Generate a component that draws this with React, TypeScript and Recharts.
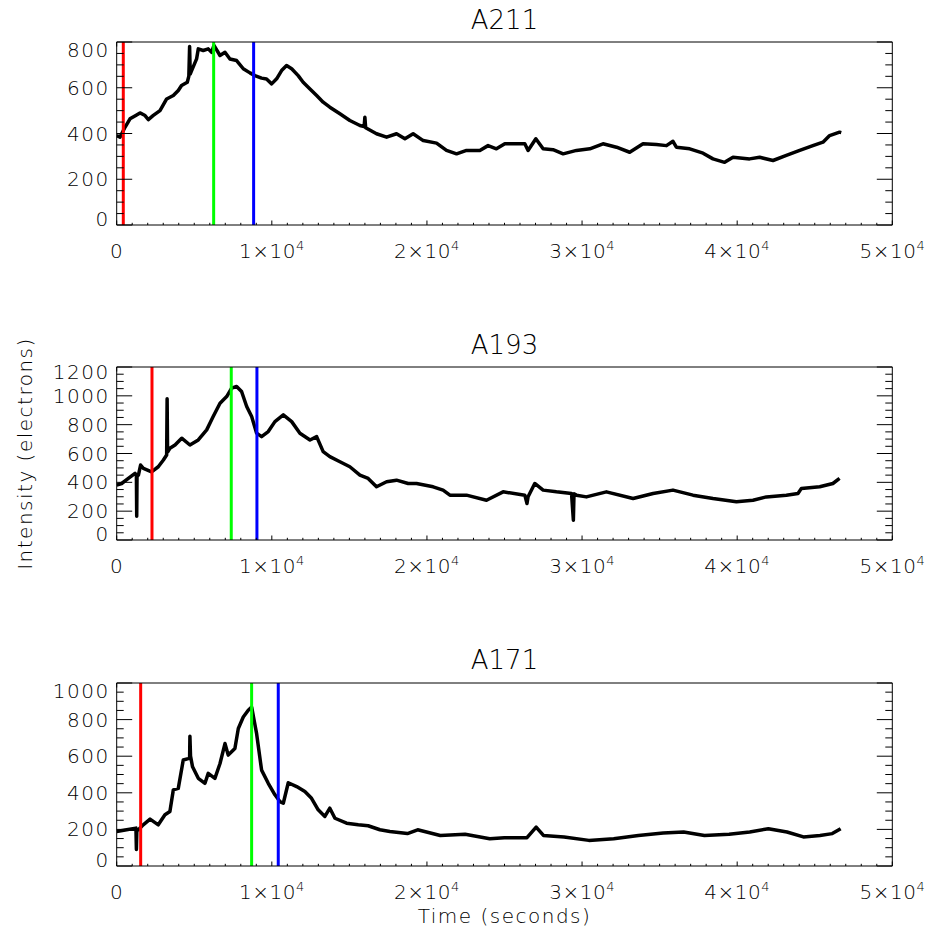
import { Line, LineChart, ReferenceLine, XAxis, YAxis } from "recharts";

// A211 light curve (time in seconds, intensity in electrons)
const A211_T = [
  0, 215, 535, 857, 1200, 1500, 1800, 2040, 2360, 2790, 3220, 3650, 3970, 4180, 4550, 4650, 4700, 4740,
  4830, 5150, 5260, 5580, 5900, 6120, 6270, 6660, 6980, 7300, 7730, 8160, 8590, 8910, 9340, 9660, 9990,
  10310, 10630, 10950, 11280, 11700, 12020, 12460, 12890, 13310, 13740, 14390, 15030, 15680, 15950, 16000,
  16050, 16750, 17400, 18040, 18580, 19110, 19760, 20620, 21260, 21910, 22550, 23410, 23940, 24480, 25020,
  26310, 26520, 27020, 27490, 28130, 28780, 29640, 30500, 31350, 32220, 33070, 33930, 34790, 35440, 35860,
  36080, 36940, 37800, 38440, 39190, 39730, 40800, 41450, 42310, 43170, 44030, 44880, 45530, 45960, 46600,
  46710,
];
const A211_V = [
  391, 384, 427, 464, 478, 490, 480, 461, 479, 500, 551, 566, 588, 610, 624, 650, 780, 660,
  675, 726, 770, 763, 770, 755, 785, 741, 755, 726, 719, 683, 665, 653, 642, 638, 617,
  639, 675, 697, 683, 653, 624, 595, 566, 537, 515, 486, 457, 435, 430, 471,
  425, 399, 384, 399, 377, 399, 369, 358, 326, 311, 326, 326, 347, 333, 355,
  355, 326, 377, 333, 329, 311, 326, 333, 355, 340, 318, 355, 352, 347, 366,
  340, 333, 314, 289, 274, 296, 289, 296, 282, 304, 326, 347, 362, 391, 406,
  404,
];

// A193
const A193_T = [
  0, 320, 750, 1180, 1270, 1290, 1310, 1400, 1540, 1720, 2250, 2680, 3010, 3220, 3250, 3280, 3430, 3760,
  4190, 4720, 5260, 5800, 6220, 6660, 7090, 7410, 7730, 8050, 8380, 8700, 9020, 9340, 9770, 10200, 10740,
  11280, 11810, 12460, 12890, 13310, 13740, 14390, 15030, 15680, 16210, 16750, 17400, 18040, 18790, 19330,
  20400, 21040, 21480, 22550, 23840, 24910, 26310, 26450, 26520, 26950, 27490, 28350, 29320, 29440, 29480,
  29640, 30280, 31570, 33290, 34580, 35860, 37150, 38440, 39950, 41020, 41880, 43170, 43920, 44140, 45320,
  46170, 46600,
];
const A193_V = [
  381, 392, 427, 462, 450, 165, 440, 450, 520, 497, 473, 508, 555, 590, 979, 610, 636, 659,
  706, 659, 694, 764, 856, 949, 995, 1054, 1065, 1030, 926, 856, 741, 717, 752, 821, 868,
  821, 741, 694, 717, 613, 578, 543, 508, 450, 427, 369, 404, 415, 392, 392,
  369, 346, 311, 311, 276, 334, 311, 253, 300, 392, 346, 334, 323, 137, 320,
  311, 299, 334, 288, 323, 346, 311, 288, 265, 276, 299, 311, 323, 358, 369,
  392, 427,
];

// A171
const A171_T = [
  0, 640, 1240, 1270, 1300, 1400, 1710, 2150, 2680, 3110, 3430, 3650, 3970, 4290, 4610, 4700, 4720, 4760,
  4890, 5260, 5690, 5900, 6330, 6660, 6980, 7190, 7620, 7840, 8160, 8480, 8700, 9020, 9340, 9770, 10200,
  10520, 10740, 11060, 11600, 12130, 12560, 12990, 13420, 13740, 14070, 14820, 15570, 16210, 16970, 17610,
  18740, 19400, 20860, 22460, 24050, 24990, 26450, 27040, 27510, 28840, 30440, 32040, 33630, 35230, 36550,
  37890, 39480, 40810, 42010, 43210, 44270, 45340, 46130, 46670,
];
const A171_V = [
  189, 198, 207, 90, 200, 198, 225, 256, 225, 280, 298, 416, 424, 579, 587, 590, 709, 600,
  542, 479, 452, 506, 479, 560, 669, 606, 642, 751, 814, 851, 868, 723, 524, 452, 389,
  352, 343, 455, 434, 407, 370, 307, 271, 316, 261, 234, 225, 220, 198, 189,
  177, 198, 167, 173, 149, 155, 155, 213, 167, 159, 140, 149, 167, 180, 186,
  167, 173, 186, 204, 186, 159, 167, 177, 204,
];

// red / green / blue marker times
const A211_MARKS = [425, 6250, 8827];
const A193_MARKS = [2275, 7385, 9040];
const A171_MARKS = [1545, 8698, 10415];
const MARK_COLORS = ["#ff0000", "#00ff00", "#0000ff"];

const X_MAJOR = [0, 10000, 20000, 30000, 40000, 50000];
const A211_Y = [0, 200, 400, 600, 800];
const A193_Y = [0, 200, 400, 600, 800, 1000, 1200];
const A171_Y = [0, 200, 400, 600, 800, 1000];

const FONT = "'DejaVu Sans', sans-serif";
const LEFT = 116.7;
const RIGHT = 892.3;
const PAD = 40;

function withMinors(major: number[], parts: number) {
  const out: number[] = [];
  for (let i = 0; i < major.length - 1; i++) {
    const step = (major[i + 1] - major[i]) / parts;
    for (let k = 0; k < parts; k++) out.push(major[i] + k * step);
  }
  out.push(major[major.length - 1]);
  return out;
}

function xLabel(v: number) {
  if (v === 0) return <tspan>0</tspan>;
  return (
    <>
      <tspan>{`${v / 10000}×10`}</tspan>
      <tspan fontSize={13} dy={-8}>4</tspan>
    </>
  );
}

function Panel({ times, values, marks, yMajor, boxTop, boxH, topShift }: {
  times: number[]; values: number[]; marks: number[]; yMajor: number[]; boxTop: number; boxH: number; topShift: number;
}) {
  const data = times.map((t, i) => ({ t, v: values[i] }));
  const yMax = yMajor[yMajor.length - 1];
  const xTicks = withMinors(X_MAJOR, 10);
  const yTicks = withMinors(yMajor, 4);
  const isMajorX = (v: number) => X_MAJOR.includes(v);
  const isMajorY = (v: number) => yMajor.includes(v);

  const bottomTick = ({ x, y, payload }: any) => {
    const major = isMajorX(payload.value);
    return (
      <g>
        <line x1={x} x2={x} y1={y} y2={y - (major ? 4.5 : 2.2)} stroke="#000" />
        {major && (
          <text x={x} y={y + 33} textAnchor="middle" fontSize={20} fontFamily={FONT} fontWeight={200}
            letterSpacing={0.5} fill="#000">
            {xLabel(payload.value)}
          </text>
        )}
      </g>
    );
  };
  const topTick = ({ x, y, payload }: any) => {
    const major = isMajorX(payload.value);
    return <line x1={x} x2={x} y1={y} y2={y + (major ? 4.5 : 2.2)} stroke="#000" />;
  };
  const leftTick = ({ x, y, payload }: any) => {
    const v = payload.value;
    const major = isMajorY(v);
    const shift = v === 0 ? -6 : v === yMax ? topShift : 0;
    return (
      <g>
        <line x1={x} x2={x + (major ? 15.5 : 7)} y1={y} y2={y} stroke="#000" />
        {major && (
          <text x={x - 7} y={y + shift + 7} textAnchor="end" fontSize={20} fontFamily={FONT} fontWeight={200}
            letterSpacing={1.5} fill="#000">
            {v}
          </text>
        )}
      </g>
    );
  };
  const rightTick = ({ x, y, payload }: any) => {
    const major = isMajorY(payload.value);
    return <line x1={x} x2={x - (major ? 15.5 : 7)} y1={y} y2={y} stroke="#000" />;
  };

  return (
    <div style={{ position: "absolute", left: 0, top: boxTop - PAD }}>
      <LineChart
        width={946}
        height={boxH + 2 * PAD}
        data={data}
        margin={{ top: PAD - 10, bottom: 0, left: LEFT - 60, right: 946 - RIGHT - 10 }}
      >
        <XAxis
          dataKey="t" type="number" domain={[0, 50000]} ticks={xTicks} interval={0}
          allowDataOverflow height={PAD} tickSize={0} tickMargin={0} tickLine={false}
          axisLine={{ stroke: "#000" }} tick={bottomTick}
        />
        <XAxis
          xAxisId="top" orientation="top" type="number" domain={[0, 50000]} ticks={xTicks} interval={0}
          allowDataOverflow height={10} tickSize={0} tickMargin={0} tickLine={false}
          axisLine={{ stroke: "#000" }} tick={topTick}
        />
        <YAxis
          type="number" domain={[0, yMax]} ticks={yTicks} interval={0} allowDataOverflow width={60}
          tickSize={0} tickMargin={0} tickLine={false} axisLine={{ stroke: "#000" }} tick={leftTick}
        />
        <YAxis
          yAxisId="right" orientation="right" type="number" domain={[0, yMax]} ticks={yTicks} interval={0}
          allowDataOverflow width={10} tickSize={0} tickMargin={0} tickLine={false}
          axisLine={{ stroke: "#000" }} tick={rightTick}
        />
        <Line
          dataKey="v" type="linear" stroke="#000" strokeWidth={3.5} dot={false}
          strokeLinejoin="round" isAnimationActive={false}
        />
        {marks.map((m, i) => (
          <ReferenceLine key={i} x={m} stroke={MARK_COLORS[i]} strokeWidth={3} />
        ))}
      </LineChart>
    </div>
  );
}

export default function App() {
  const txt = { fontFamily: FONT, fontWeight: 200, fill: "#000" } as const;
  const mid = (LEFT + RIGHT) / 2;
  return (
    <div style={{ position: "absolute", left: 0, top: 0, width: 946, height: 933, background: "#fff" }}>
      <Panel times={A211_T} values={A211_V} marks={A211_MARKS} yMajor={A211_Y} boxTop={41.5} boxH={183} topShift={8} />
      <Panel times={A193_T} values={A193_V} marks={A193_MARKS} yMajor={A193_Y} boxTop={367} boxH={173} topShift={5} />
      <Panel times={A171_T} values={A171_V} marks={A171_MARKS} yMajor={A171_Y} boxTop={682.5} boxH={183} topShift={8} />
      <svg width={946} height={933} style={{ position: "absolute", left: 0, top: 0, pointerEvents: "none" }}>
        <text x={mid} y={29} textAnchor="middle" fontSize={26} {...txt}>A211</text>
        <text x={mid} y={354} textAnchor="middle" fontSize={26} {...txt}>A193</text>
        <text x={mid} y={669} textAnchor="middle" fontSize={26} {...txt}>A171</text>
        <text x={mid} y={923} textAnchor="middle" fontSize={20} letterSpacing={1.5} {...txt}>Time (seconds)</text>
        <text x={31.5} y={453.5} textAnchor="middle" fontSize={20} letterSpacing={1.5}
          transform="rotate(-90 31.5 453.5)" {...txt}>
          Intensity (electrons)
        </text>
      </svg>
    </div>
  );
}
